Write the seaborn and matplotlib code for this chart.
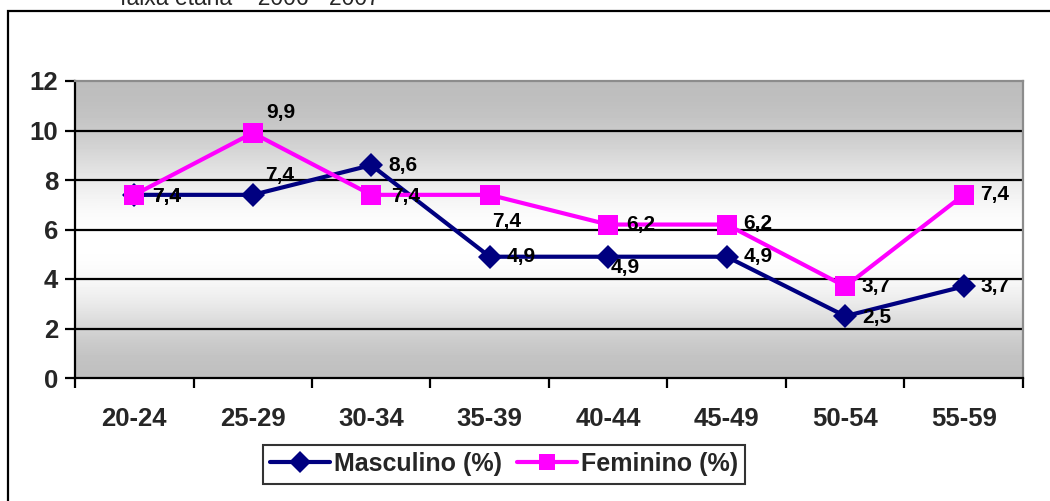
import numpy as np
import pandas as pd
import matplotlib
matplotlib.use("Agg")
import matplotlib.pyplot as plt
from matplotlib.patches import Rectangle
from matplotlib.lines import Line2D
import seaborn as sns

categories = ["20-24", "25-29", "30-34", "35-39", "40-44", "45-49", "50-54", "55-59"]
masculino = [7.4, 7.4, 8.6, 4.9, 4.9, 4.9, 2.5, 3.7]
feminino = [7.4, 9.9, 7.4, 7.4, 6.2, 6.2, 3.7, 7.4]
series_names = ["Masculino (%)", "Feminino (%)"]
y_ticks = [0, 2, 4, 6, 8, 10, 12]
title_text = "faixa etária – 2006 - 2007"

# label offsets in points (style only)
masc_offsets = [(13, -1), (9, 14), (12, 0), (12, 0), (2, -8), (12, 0), (12, -1), (12, 0)]
fem_offsets = [(13, -1), (10, 15), (14, -1), (2, -19), (13, 0), (12, 1), (12, 0), (12, 0)]

sns.set_theme(style="white")
plt.rcParams["font.family"] = ["Liberation Sans", "DejaVu Sans"]

x_pos = np.arange(len(categories))
df = pd.DataFrame({
    "x": np.concatenate([x_pos, x_pos]),
    "valor": masculino + feminino,
    "serie": [series_names[0]] * len(categories) + [series_names[1]] * len(categories),
})

fig = plt.figure(figsize=(10.5, 5.01), dpi=100)
ax = fig.add_axes([75 / 1050, 123 / 501, 948 / 1050, 297 / 501])

# gradient background
grad = np.array([0.75, 0.80, 0.90, 0.97, 1.0, 1.0, 0.97, 0.90, 0.83, 0.77, 0.74])
ax.imshow(grad[::-1].reshape(-1, 1), cmap="gray", vmin=0, vmax=1, aspect="auto",
          extent=[0, 1, 0, 1], transform=ax.transAxes, zorder=0, interpolation="bicubic")

for yv in y_ticks[1:-1]:
    ax.axhline(yv, color="black", lw=1.6, zorder=1)

palette = {series_names[0]: "#000080", series_names[1]: "#FF00FF"}
markers = {series_names[0]: "D", series_names[1]: "s"}
sns.lineplot(data=df, x="x", y="valor", hue="serie", style="serie", palette=palette,
             markers=markers, dashes=False, lw=3, ax=ax, zorder=3, legend=False,
             markeredgewidth=0)
lines = [l for l in ax.get_lines() if len(l.get_xdata()) == len(categories)]
for l in lines:
    if l.get_marker() == "D":
        l.set_markersize(12)
    else:
        l.set_markersize(14.5)
    l.set_zorder(3)

for i, v in enumerate(masculino):
    ax.annotate(f"{v:.1f}".replace(".", ","), (x_pos[i], v), xytext=masc_offsets[i],
                textcoords="offset points", ha="left", va="center", fontsize=15,
                fontweight="bold", color="black", zorder=5)
for i, v in enumerate(feminino):
    ax.annotate(f"{v:.1f}".replace(".", ","), (x_pos[i], v), xytext=fem_offsets[i],
                textcoords="offset points", ha="left", va="center", fontsize=15,
                fontweight="bold", color="black", zorder=5)

ax.set_xlim(-0.5, len(categories) - 0.5)
ax.set_ylim(0, 12)
ax.set_yticks(y_ticks)
ax.set_yticklabels([str(t) for t in y_ticks], fontsize=18.5, fontweight="bold")
ax.set_xticks(x_pos)
ax.set_xticklabels(categories, fontsize=18.5, fontweight="bold")
ax.set_xticks(np.arange(len(categories) + 1) - 0.5, minor=True)
ax.tick_params(axis="x", which="major", length=0, pad=21)
ax.tick_params(axis="x", which="minor", length=7, width=1.6, color="black", direction="out", bottom=True)
ax.tick_params(axis="y", which="major", length=7, width=1.6, color="black", direction="out", left=True, pad=5)
ax.set_xlabel("")
ax.set_ylabel("")

for side in ["left", "bottom"]:
    ax.spines[side].set_color("black")
    ax.spines[side].set_linewidth(1.6)
for side in ["top", "right"]:
    ax.spines[side].set_color("#8c8c8c")
    ax.spines[side].set_linewidth(1.6)

handles = [
    Line2D([], [], color="#000080", lw=3, marker="D", markersize=11, markeredgewidth=0),
    Line2D([], [], color="#FF00FF", lw=3, marker="s", markersize=12, markeredgewidth=0),
]
leg = fig.legend(handles, series_names, loc="center", bbox_to_anchor=(504 / 1050, 37 / 501),
                 ncol=2, frameon=True, fancybox=False, handlelength=2.4,
                 handletextpad=0.15, columnspacing=0.6, borderpad=0.3,
                 prop={"weight": "bold", "size": 18})
leg.get_frame().set_edgecolor("black")
leg.get_frame().set_linewidth(1.5)
leg.get_frame().set_facecolor("white")

# outer chart border
fig.patches.append(Rectangle((8 / 1050, -0.05), 1.1, (501 - 11) / 501 + 0.05,
                             transform=fig.transFigure, fill=False, edgecolor="black", lw=1.6))

fig.text(120 / 1050, (501 - 5) / 501, title_text, ha="left", va="baseline", fontsize=16.5)

fig.savefig("out.png", dpi=100)
